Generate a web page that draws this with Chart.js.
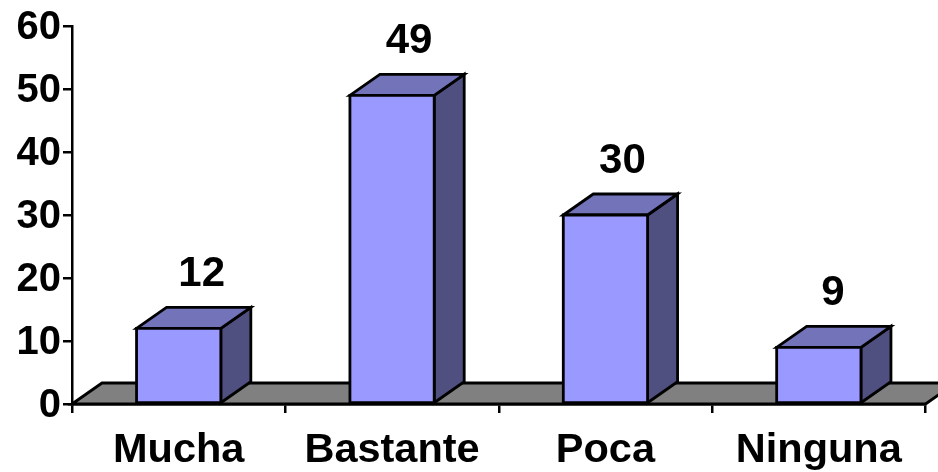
<!DOCTYPE html>
<html>
<head>
<meta charset="utf-8">
<style>
  html, body { margin: 0; background: #fff; overflow: hidden; }
  canvas { display: block; }
</style>
<script src="https://cdn.jsdelivr.net/npm/chart.js@4"></script>
</head>
<body>
<canvas id="chart" width="938" height="472"></canvas>
<script>
const categories = ["Mucha", "Bastante", "Poca", "Ninguna"];
const values = [12, 49, 30, 9];
const yMax = 60;
const yStep = 10;

const family = "'Liberation Sans', Arial, sans-serif";
const depthX = 30;
const depthY = 21;
const stroke = 2.8;
// value labels are not evenly placed over the bars in the original
const labelShift = [23, 17, 17, 14];

function poly(c, pts, fill) {
  c.beginPath();
  pts.forEach((p, i) => i ? c.lineTo(p[0], p[1]) : c.moveTo(p[0], p[1]));
  c.closePath();
  c.fillStyle = fill;
  c.fill();
  c.lineWidth = stroke;
  c.strokeStyle = "#000";
  c.lineJoin = "miter";
  c.stroke();
}

// Grey floor, sits under the bars
const floor3d = {
  id: "floor3d",
  beforeDatasetsDraw(chart) {
    const c = chart.ctx, a = chart.chartArea;
    poly(c, [
      [a.left, a.bottom],
      [a.left + depthX, a.bottom - depthY],
      [a.right + depthX, a.bottom - depthY],
      [a.right, a.bottom]
    ], "#808080");
  }
};

// Outline, side and top faces of each bar, value labels, y tick labels
const bars3d = {
  id: "bars3d",
  afterDatasetsDraw(chart) {
    const c = chart.ctx;
    chart.getDatasetMeta(0).data.forEach((bar, i) => {
      const left = bar.x - bar.width / 2;
      const right = bar.x + bar.width / 2;
      const top = bar.y, bottom = bar.base;
      poly(c, [
        [right, bottom], [right + depthX, bottom - depthY],
        [right + depthX, top - depthY], [right, top]
      ], "#4F4F80");
      poly(c, [
        [left, top], [left + depthX, top - depthY],
        [right + depthX, top - depthY], [right, top]
      ], "#7373BA");
      poly(c, [[left, top], [right, top], [right, bottom], [left, bottom]], "#9999FF");
      c.save();
      c.font = `bold 42px ${family}`;
      c.fillStyle = "#000";
      c.textAlign = "center";
      c.textBaseline = "middle";
      c.fillText(values[i], bar.x + labelShift[i], bar.y - 54);
      c.restore();
    });

    const y = chart.scales.y;
    c.save();
    c.font = `bold 40px ${family}`;
    c.fillStyle = "#000";
    c.textAlign = "right";
    c.textBaseline = "middle";
    y.ticks.forEach(t => c.fillText(t.value, 61, y.getPixelForValue(t.value) + 2));
    c.restore();
  }
};

new Chart(document.getElementById("chart"), {
  type: "bar",
  data: {
    labels: categories,
    datasets: [{
      data: values,
      backgroundColor: "#9999FF",
      borderWidth: 0,
      barPercentage: 0.395,
      categoryPercentage: 1
    }]
  },
  plugins: [floor3d, bars3d],
  options: {
    responsive: false,
    animation: false,
    layout: { padding: { top: 26, right: 12.5, left: 0, bottom: 0 } },
    plugins: { legend: { display: false }, tooltip: { enabled: false } },
    scales: {
      x: {
        afterFit(scale) { scale.height = 68; },
        border: { color: "#000", width: 2.5 },
        grid: { drawOnChartArea: false, color: "#000", tickColor: "#000", tickLength: 9, lineWidth: 2.5 },
        ticks: { color: "#000", font: { family, size: 41.5, weight: "bold" }, padding: 13, maxRotation: 0, autoSkip: false }
      },
      y: {
        min: 0,
        max: yMax,
        afterFit(scale) { scale.width = 72; },
        border: { color: "#000", width: 2.5 },
        grid: { drawOnChartArea: false, color: "#000", tickColor: "#000", tickLength: 9, lineWidth: 2.5 },
        ticks: { display: false, stepSize: yStep }
      }
    }
  }
});
</script>
</body>
</html>
